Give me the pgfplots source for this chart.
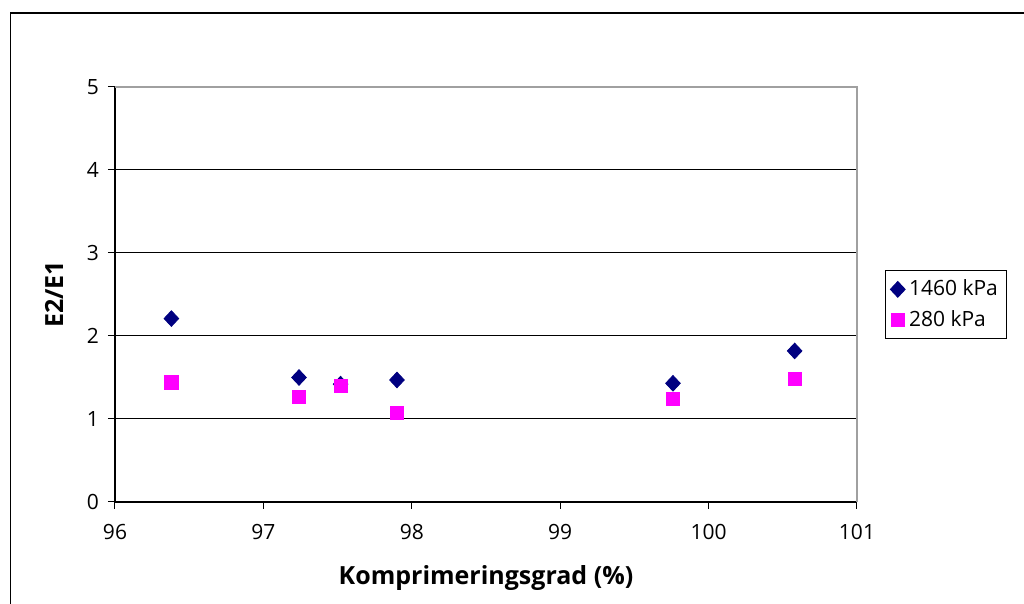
\documentclass[border=0pt]{standalone}
\usepackage{fontspec}
\setmainfont{Open Sans}
\usepackage{pgfplots}
\pgfplotsset{compat=1.18}
\definecolor{navyc}{RGB}{0,0,128}
\definecolor{magc}{RGB}{255,0,255}
\definecolor{bordgray}{RGB}{160,160,160}
\begin{document}
\begin{tikzpicture}
\path[use as bounding box] (0,0) rectangle (512pt,302pt);
\draw[line width=0.8pt] (5.25pt,-1pt) -- (5.25pt,295.5pt) -- (513pt,295.5pt);
\begin{axis}[
  at={(57.5pt,51pt)}, anchor=south west,
  scale only axis, width=371pt, height=207.5pt,
  xmin=96, xmax=101, ymin=0, ymax=5,
  xtick={96,97,98,99,100,101}, ytick={0,1,2,3,4,5},
  axis x line=bottom, axis y line=left,
  axis line style={-, black, line width=0.6pt},
  tick align=outside, major tick length=3.5pt,
  tick style={black, line width=0.5pt},
  ymajorgrids, grid style={black, line width=0.5pt},
  /pgf/number format/assume math mode=true,
  ticklabel style={font=\fontsize{10.5}{12}\selectfont},
  xticklabel style={yshift=-4pt},
  yticklabel style={xshift=-1pt},
  xlabel={\textbf{Komprimeringsgrad (\%)}},
  ylabel={\textbf{E2/E1}},
  label style={font=\fontsize{12.5}{14}\selectfont},
  xlabel style={yshift=-6pt},
  ylabel style={yshift=5pt},
  clip=false,
  legend style={at={(1.0377,0.392)}, anchor=south west, draw=black, line width=0.5pt,
    font=\fontsize{10.5}{12}\selectfont, row sep=2pt, inner sep=2.5pt,
    /tikz/every even column/.append style={column sep=0pt}},
  legend cell align=left,
  legend image post style={xshift=-1pt},
]
\draw[bordgray, line width=0.8pt] (rel axis cs:0,1) -- (rel axis cs:1,1) -- (rel axis cs:1,0);
\addplot[only marks, mark=diamond*, mark size=3.9pt, mark options={xscale=1.25}, color=navyc, fill=navyc] coordinates {
 (96.38,2.21) (97.24,1.50) (97.52,1.42) (97.90,1.47) (99.76,1.43) (100.58,1.82)};
\addlegendentry{1460 kPa}
\addplot[only marks, mark=square*, mark size=3.3pt, color=magc, fill=magc] coordinates {
 (96.38,1.44) (97.24,1.27) (97.52,1.40) (97.90,1.07) (99.76,1.24) (100.58,1.48)};
\addlegendentry{280 kPa}
\end{axis}
\end{tikzpicture}
\end{document}
